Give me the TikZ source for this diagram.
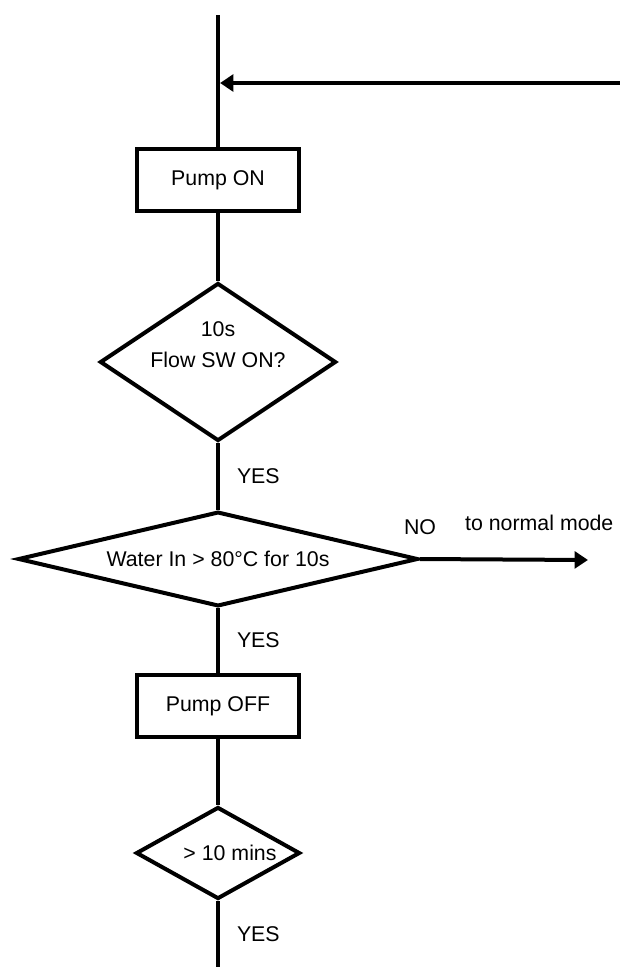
\documentclass[tikz,border=0pt]{standalone}
\usepackage{fontspec}
\setmainfont{Liberation Sans}
\usetikzlibrary{shapes.geometric,arrows.meta}

\tikzset{
  flowline/.style={line width=3pt},
  pumpbox/.style={draw, line width=3pt, rectangle, minimum width=121pt, minimum height=47pt, inner sep=0pt},
  decision/.style={draw, line width=3pt, diamond, inner sep=0pt},
  answer/.style={right=12.75pt, inner sep=0pt},
  tip/.style={-{Triangle[length=10pt,width=12.5pt]}}
}

\begin{document}
\begin{tikzpicture}[x=0.75pt, y=-0.75pt, font=\fontsize{16}{23.25}\selectfont]
  \useasboundingbox (0,0) rectangle (620,967);

  % ends of the main line
  \coordinate (start) at (218,15);
  \coordinate (merge) at (218,83);
  \coordinate (loop) at (620,83);
  \coordinate (end) at (218,967);
  \coordinate (normal) at (588,560);

  % boxes and decisions
  \node[pumpbox] (pumpon) at (218,180) {Pump ON};
  \node[decision, minimum width=177pt, minimum height=118.5pt,
        label={[align=center, yshift=12.75pt]center:{10s\\Flow SW ON?}}] (flowsw) at (218,362) {};
  \node[decision, aspect=4.2, minimum width=300pt, minimum height=71pt] (water) at (218,559) {Water In > 80°C for 10s};
  \node[pumpbox] (pumpoff) at (218,706) {Pump OFF};
  \node[decision, minimum width=123pt, minimum height=69pt,
        label={[xshift=9pt]center:{> 10 mins}}] (wait) at (218,853) {};

  % connectors
  \draw[flowline] (start) -- (pumpon);
  \draw[flowline, tip] (loop) -- ([xshift=1.5pt]merge);
  \draw[flowline] (pumpon) -- (flowsw);
  \draw[flowline] (flowsw) -- node[answer] {YES} (water);
  \draw[flowline] (water) -- node[answer] {YES} (pumpoff);
  \draw[flowline] (pumpoff) -- (wait);
  \draw[flowline] (wait) -- node[answer] {YES} (end);
  \draw[flowline, tip] (water.east) -- node[pos=0, above=16.5pt, inner sep=0pt] {NO}
    node[pos=0.71, above=20pt, inner sep=0pt] {to normal mode} (normal);
\end{tikzpicture}
\end{document}
